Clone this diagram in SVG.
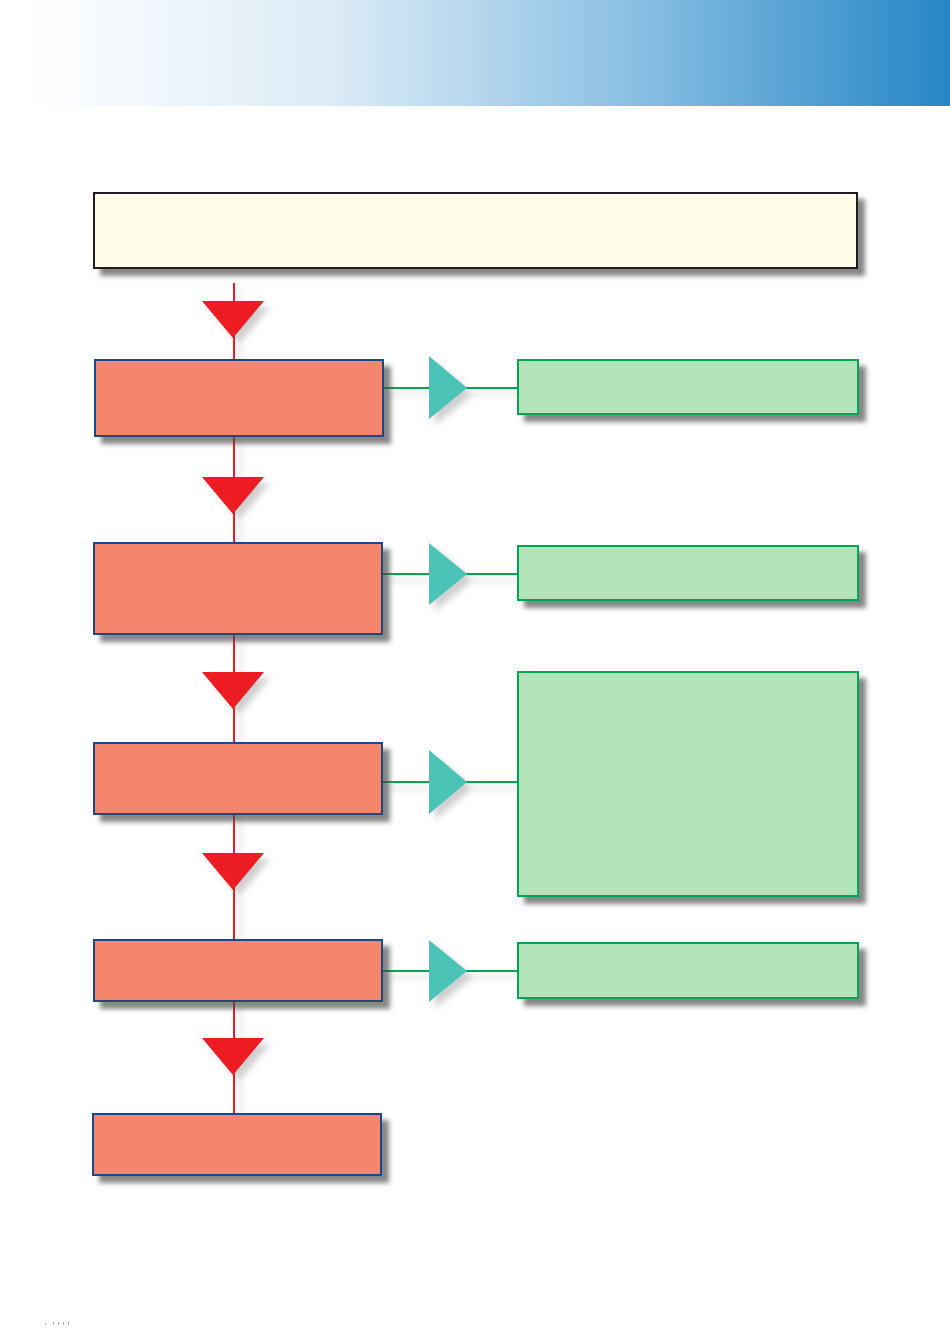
<svg xmlns="http://www.w3.org/2000/svg" width="950" height="1344" viewBox="0 0 950 1344">
<defs>
<linearGradient id="banner" x1="0" y1="0" x2="1" y2="0">
<stop offset="0" stop-color="#ffffff"/>
<stop offset="0.03" stop-color="#ffffff"/>
<stop offset="0.35" stop-color="#dcebf6"/>
<stop offset="0.65" stop-color="#8fc2e3"/>
<stop offset="1" stop-color="#2686c6"/>
</linearGradient>
<filter id="shadow" x="-10%" y="-30%" width="130%" height="180%">
<feGaussianBlur in="SourceAlpha" stdDeviation="2.5"/>
<feOffset dx="7" dy="7" result="b"/>
<feFlood flood-color="#444" flood-opacity="0.65"/>
<feComposite in2="b" operator="in"/>
<feMerge><feMergeNode/><feMergeNode in="SourceGraphic"/></feMerge>
</filter>
<filter id="lshadow" x="-20%" y="-20%" width="140%" height="140%">
<feGaussianBlur in="SourceAlpha" stdDeviation="3"/>
<feOffset dx="6" dy="6" result="b"/>
<feFlood flood-color="#777" flood-opacity="0.35"/>
<feComposite in2="b" operator="in"/>
<feMerge><feMergeNode/><feMergeNode in="SourceGraphic"/></feMerge>
</filter>
</defs>
<style>
.top{fill:#fefee8;stroke:#231f20;stroke-width:2}
.step{fill:#f5866d;stroke:#1f4a85;stroke-width:2}
.out{fill:#b3e3b8;stroke:#00a651;stroke-width:2}
.red{stroke:#ed1c24;stroke-width:2;fill:none}
.grn{stroke:#00a651;stroke-width:2;fill:none}
.rtri{fill:#ed1c24}
.gtri{fill:#4cc3b6}
</style>
<rect x="0" y="0" width="950" height="106" fill="url(#banner)"/>
<g id="connectors" filter="url(#lshadow)">
<line class="red" x1="234" y1="283" x2="234" y2="360"/>
<line class="red" x1="234" y1="436" x2="234" y2="543"/>
<line class="red" x1="234" y1="634" x2="234" y2="743"/>
<line class="red" x1="234" y1="814" x2="234" y2="940"/>
<line class="red" x1="234" y1="1001" x2="234" y2="1114"/>
<polygon class="rtri" points="202,301 264,301 233,338"/>
<polygon class="rtri" points="202,477 264,477 233,514"/>
<polygon class="rtri" points="202,672 264,672 233,709"/>
<polygon class="rtri" points="202,853 264,853 233,890"/>
<polygon class="rtri" points="202,1038 264,1038 233,1075"/>
<line class="grn" x1="383" y1="388" x2="518" y2="388"/>
<line class="grn" x1="382" y1="574" x2="518" y2="574"/>
<line class="grn" x1="382" y1="782" x2="518" y2="782"/>
<line class="grn" x1="382" y1="971" x2="518" y2="971"/>
<polygon class="gtri" points="429,356 429,419 467,388"/>
<polygon class="gtri" points="429,543 429,605 467,574"/>
<polygon class="gtri" points="429,750 429,814 467,782"/>
<polygon class="gtri" points="429,940 429,1002 467,971"/>
</g>
<g id="top" filter="url(#shadow)"><rect class="top" x="94" y="193" width="763" height="75"/></g>
<g id="step1" filter="url(#shadow)"><rect class="step" x="95" y="360" width="288" height="76"/></g>
<g id="step2" filter="url(#shadow)"><rect class="step" x="94" y="543" width="288" height="91"/></g>
<g id="step3" filter="url(#shadow)"><rect class="step" x="94" y="743" width="288" height="71"/></g>
<g id="step4" filter="url(#shadow)"><rect class="step" x="94" y="940" width="288" height="61"/></g>
<g id="step5" filter="url(#shadow)"><rect class="step" x="93" y="1114" width="288" height="61"/></g>
<g id="out1" filter="url(#shadow)"><rect class="out" x="518" y="360" width="340" height="54"/></g>
<g id="out2" filter="url(#shadow)"><rect class="out" x="518" y="546" width="340" height="54"/></g>
<g id="out3" filter="url(#shadow)"><rect class="out" x="518" y="672" width="340" height="224"/></g>
<g id="out4" filter="url(#shadow)"><rect class="out" x="518" y="943" width="340" height="55"/></g>
<g fill="#999">
<rect x="45" y="1323" width="1" height="1.5"/>
<rect x="53" y="1322" width="1" height="2.5"/>
<rect x="58" y="1322" width="1" height="2.5"/>
<rect x="63" y="1322" width="1" height="2.5"/>
<rect x="68" y="1322" width="1" height="2.5"/>
</g>
</svg>
